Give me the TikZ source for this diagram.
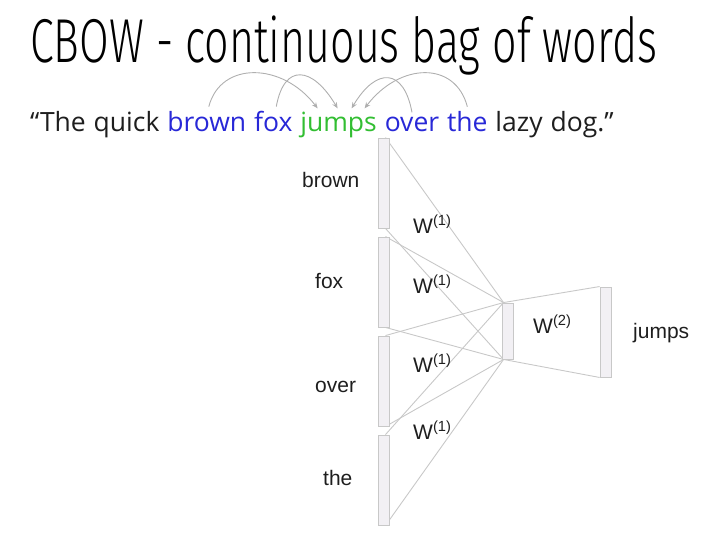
\documentclass[tikz,border=0pt]{standalone}
\usepackage{fontspec}
\setmainfont{Liberation Sans}
\newfontfamily\titlefont[FakeStretch=0.693]{Fira Sans Light}
\newfontfamily\quotefont{Open Sans}
\usetikzlibrary{arrows.meta,backgrounds}
\definecolor{wordblue}{RGB}{40,40,215}
\definecolor{wordgreen}{RGB}{50,190,50}
\definecolor{ink}{RGB}{30,30,30}
\definecolor{wirecol}{RGB}{200,200,200}
\definecolor{arrowcol}{RGB}{175,175,175}
\definecolor{cellfill}{RGB}{242,240,244}
\definecolor{celledge}{RGB}{200,200,200}
\begin{document}
\begin{tikzpicture}[x=1pt,y=-1pt,
  vec/.style={draw=celledge, fill=cellfill, line width=0.9pt, minimum width=11pt, inner sep=0, rectangle},
  wire/.style={draw=wirecol, line width=0.9pt},
  lbl/.style={font=\fontsize{21}{25}\selectfont, text=ink, inner sep=0, anchor=base west},
  word/.style={font=\quotefont\fontsize{26.5}{30}\selectfont, inner sep=0, anchor=base west, text=ink},
  ctx/.style={-{Stealth[length=6pt,width=5pt]}, draw=arrowcol, line width=0.9pt}
]
\path[use as bounding box] (0,0) rectangle (727,549);

% title
\node[anchor=base west, inner sep=0, font=\titlefont\fontsize{62}{70}\selectfont, text=black] (title) at (30,62) {CBOW - continuous bag of words};

% example sentence, one node per word
\def\gap{7.5pt}
\node[word] (w0) at (30,131) {“The};
\node[word] (w1) at ([xshift=\gap]w0.base east) {quick};
\node[word, text=wordblue] (wbrown) at ([xshift=\gap]w1.base east) {brown};
\node[word, text=wordblue] (wfox) at ([xshift=\gap]wbrown.base east) {fox};
\node[word, text=wordgreen] (wjumps) at ([xshift=\gap]wfox.base east) {jumps};
\node[word, text=wordblue] (wover) at ([xshift=\gap]wjumps.base east) {over};
\node[word, text=wordblue] (wthe) at ([xshift=\gap]wover.base east) {the};
\node[word] (w7) at ([xshift=\gap]wthe.base east) {lazy};
\node[word] (w8) at ([xshift=\gap]w7.base east) {dog.”};

% context words pointing at the centre word
\draw[ctx] ([xshift=2pt,yshift=4pt]wbrown.north) .. controls +(12,-46) and +(-35,-46) .. ([xshift=-21pt,yshift=3pt]wjumps.north);
\draw[ctx] ([xshift=3pt,yshift=4pt]wfox.north) .. controls +(8,-44) and +(-25,-42) .. ([xshift=-1pt,yshift=3pt]wjumps.north);
\draw[ctx] ([yshift=4pt]wover.north) .. controls +(-8,-44) and +(25,-42) .. ([xshift=13pt,yshift=3pt]wjumps.north);
\draw[ctx] ([yshift=4pt]wthe.north) .. controls +(-12,-46) and +(35,-46) .. ([xshift=26pt,yshift=3pt]wjumps.north);

% input vectors, hidden layer, output vector
\node[vec, minimum height=90pt] (in1) at (383.5,183) {};
\node[vec, minimum height=90pt] (in2) at (383.5,282) {};
\node[vec, minimum height=90pt] (in3) at (383.5,381) {};
\node[vec, minimum height=90pt] (in4) at (383.5,480) {};
\node[vec, minimum height=56pt] (hid) at (507.5,331) {};
\node[vec, minimum height=90pt] (out) at (605.5,332) {};

\begin{scope}[on background layer]
  \foreach \i in {1,2,3,4} {
    \draw[wire] ([xshift=2pt]in\i.north) -- ([xshift=2pt]hid.north west);
    \draw[wire] ([xshift=2pt]in\i.south) -- ([xshift=2pt]hid.south west);
  }
  \draw[wire] ([xshift=2pt]hid.north west) -- (out.north west);
  \draw[wire] ([xshift=2pt]hid.south west) -- (out.south west);
\end{scope}

% word labels
\node[lbl] (lbrown) at (302,187) {brown};
\node[lbl] (lfox) at (315,288) {fox};
\node[lbl] (lover) at (315,392) {over};
\node[lbl] (lthe) at (323,485) {the};
\node[lbl] (ljumps) at (633,338) {jumps};

% weight labels
\node[lbl] (wa) at (413,233) {W\textsuperscript{(1)}};
\node[lbl] (wb) at (413,293) {W\textsuperscript{(1)}};
\node[lbl] (wc) at (413,372) {W\textsuperscript{(1)}};
\node[lbl] (wd) at (413,439) {W\textsuperscript{(1)}};
\node[lbl] (we) at (533,333) {W\textsuperscript{(2)}};
\end{tikzpicture}
\end{document}
